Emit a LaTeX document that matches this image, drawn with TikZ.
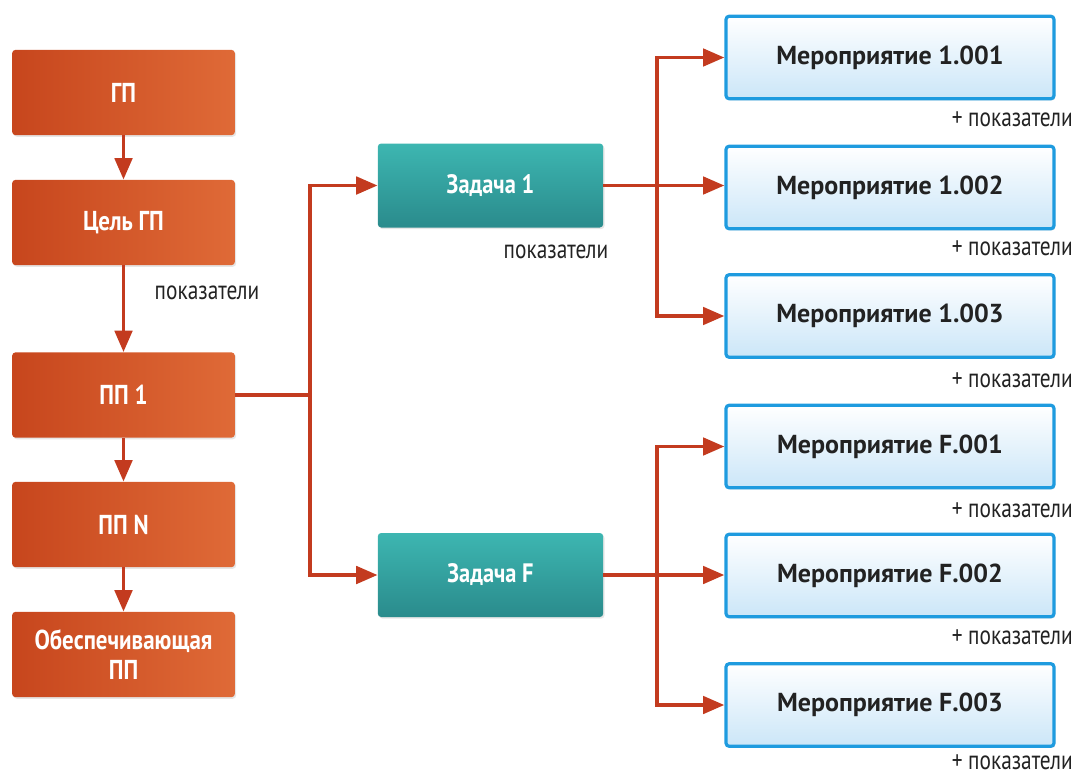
\documentclass[tikz,border=0pt]{standalone}
\usepackage{fontspec}
\setmainfont{PT Sans}
\newfontfamily\condf{PT Sans}[FakeStretch=0.84]
\newfontfamily\narrf{PT Sans}[FakeStretch=0.8]
\usetikzlibrary{arrows.meta,shadows}
\definecolor{arr}{HTML}{C33B1F}
\definecolor{orL}{HTML}{C7461D}
\definecolor{orR}{HTML}{DF6A37}
\definecolor{tlT}{HTML}{3DB6B1}
\definecolor{tlB}{HTML}{2A8B8C}
\definecolor{blB}{HTML}{1E9BDF}
\definecolor{blF}{HTML}{CBE6F8}
\definecolor{txt}{HTML}{222222}
\begin{document}
\begin{tikzpicture}[x=0.75pt,y=-0.75pt,
  boxbase/.style={rounded corners=2.5pt, inner sep=2pt, align=center,
     drop shadow={opacity=0.2,shadow xshift=1pt,shadow yshift=-1.2pt}},
  obox/.style={boxbase, left color=orL, right color=orR, text=white,
     font=\condf\bfseries\fontsize{20.5}{23}\selectfont,
     minimum width=167pt, minimum height=64pt},
  tbox/.style={boxbase, top color=tlT, bottom color=tlB, text=white,
     font=\condf\bfseries\fontsize{20}{22}\selectfont,
     minimum width=169pt, minimum height=63pt},
  bbox/.style={boxbase, top color=white, bottom color=blF, draw=blB, line width=2.4pt,
     font=\bfseries\fontsize{19.5}{22}\selectfont,
     text=txt, minimum width=246pt, minimum height=62pt},
  lab/.style={font=\narrf\fontsize{20}{22}\selectfont, text=txt, inner sep=0pt},
  plab/.style={lab, anchor=east},
  conn/.style={draw=arr, line width=2.8pt},
  arrw/.style={conn, -{Triangle[length=16pt,width=13pt]}}
]
\useasboundingbox (0,0) rectangle (1078,776);

% left column
\node[obox] (gp)   at (123.5,92.5) {ГП};
\node[obox] (cel)  at (123.5,222.5) {Цель ГП};
\node[obox] (pp1)  at (123.5,395) {ПП 1};
\node[obox] (ppn)  at (123.5,524.5) {ПП N};
\node[obox] (obes) at (123.5,654.5) {Обеспечивающая\\ПП};
\node[lab] (pk0) at (207,293) {показатели};

% tasks
\node[tbox] (z1) at (490.5,185.5) {Задача 1};
\node[tbox] (zf) at (490.5,575) {Задача F};
\node[lab] (pk1) at (556,252) {показатели};

% activities
\node[bbox] (m1) at (890,57.5)  {Мероприятие 1.001};
\node[bbox] (m2) at (890,187.5) {Мероприятие 1.002};
\node[bbox] (m3) at (890,316)   {Мероприятие 1.003};
\node[bbox] (m4) at (890,446.5) {Мероприятие F.001};
\node[bbox] (m5) at (890,575.5) {Мероприятие F.002};
\node[bbox] (m6) at (890,705)   {Мероприятие F.003};

\node[plab] (q1) at (1073,119) {+ показатели};
\node[plab] (q2) at (1073,248) {+ показатели};
\node[plab] (q3) at (1073,380) {+ показатели};
\node[plab] (q4) at (1073,510) {+ показатели};
\node[plab] (q5) at (1073,637) {+ показатели};
\node[plab] (q6) at (1073,762) {+ показатели};

% vertical chain
\draw[arrw] (gp) -- (cel);
\draw[arrw] (cel) -- (pp1);
\draw[arrw] (pp1) -- (ppn);
\draw[arrw] (ppn) -- (obes);

% split to tasks
\coordinate (s1) at (310,395);
\draw[conn] (pp1.east) -- (s1);
\draw[arrw] (s1) |- (z1.west);
\draw[arrw] (s1) |- (zf.west);

% task 1 to activities
\coordinate (t1) at (657,185.5);
\draw[arrw] (z1.east) -- (z1.east -| m2.west);
\draw[arrw] (t1) |- (m1.west);
\draw[arrw] (t1) |- (m3.west);

% task F to activities
\coordinate (tf) at (657,575);
\draw[arrw] (zf.east) -- (zf.east -| m5.west);
\draw[arrw] (tf) |- (m4.west);
\draw[arrw] (tf) |- (m6.west);
\end{tikzpicture}
\end{document}
